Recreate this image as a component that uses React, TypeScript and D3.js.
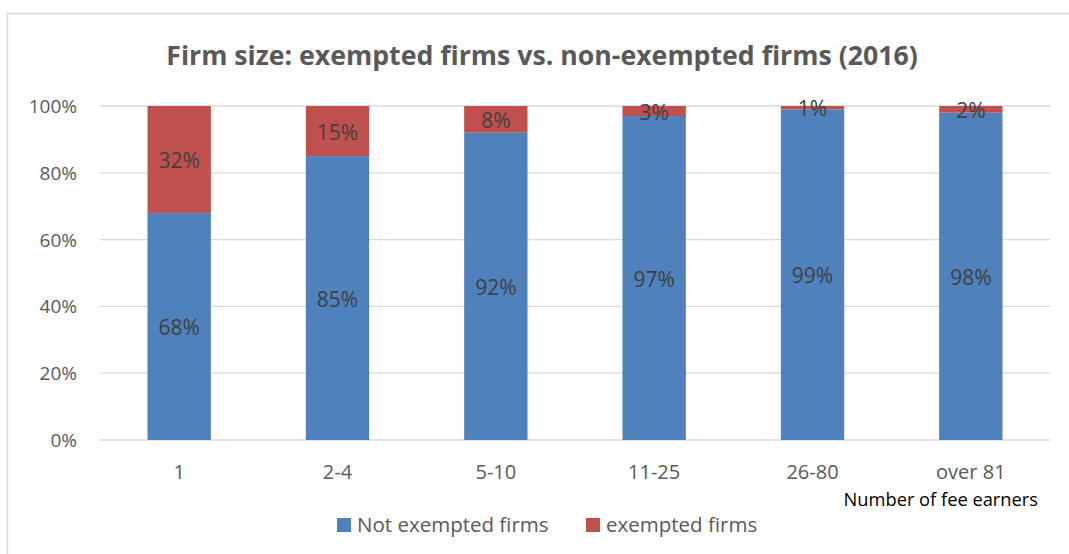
import React, { useEffect, useRef } from 'react';
import * as d3 from 'd3';

const categories = ['1', '2-4', '5-10', '11-25', '26-80', 'over 81'];
const notExempted = [68, 85, 92, 97, 99, 98];
const exempted = [32, 15, 8, 3, 1, 2];
const yTicks = [0, 20, 40, 60, 80, 100];
const seriesNames = ['Not exempted firms', 'exempted firms'];
const seriesColors = ['#4f81bd', '#c0504d'];

const FONT = '"Open Sans", Lato, sans-serif';

const App: React.FC = () => {
  const svgRef = useRef<SVGSVGElement>(null);

  useEffect(() => {
    if (!svgRef.current) return;
    const svg = d3.select(svgRef.current);
    svg.selectAll('*').remove();

    const width = 1069;
    const height = 554;
    const plot = { left: 100, right: 1050, top: 106, bottom: 440 };

    // chart frame (only top and left edges are visible)
    svg.append('rect')
      .attr('x', 7.5)
      .attr('y', 13.5)
      .attr('width', width + 20)
      .attr('height', height + 20)
      .attr('fill', '#fff')
      .attr('stroke', '#d9d9d9')
      .attr('stroke-width', 1.5);

    const x = d3.scaleBand<string>()
      .domain(categories)
      .range([plot.left, plot.right])
      .paddingInner(0.6)
      .paddingOuter(0.3);

    const y = d3.scaleLinear()
      .domain([0, 100])
      .range([plot.bottom, plot.top]);

    // grid lines
    svg.append('g')
      .selectAll('line')
      .data(yTicks)
      .enter()
      .append('line')
      .attr('x1', plot.left)
      .attr('x2', plot.right)
      .attr('y1', d => y(d))
      .attr('y2', d => y(d))
      .attr('stroke', '#d9d9d9')
      .attr('stroke-width', 1.3);

    // y tick labels
    svg.append('g')
      .selectAll('text')
      .data(yTicks)
      .enter()
      .append('text')
      .attr('x', 77)
      .attr('y', d => y(d) + 7)
      .attr('text-anchor', 'end')
      .attr('font-family', FONT)
      .attr('font-size', 19)
      .attr('fill', '#595959')
      .text(d => `${d}%`);

    // stacked bars
    const rows = categories.map((c, i) => ({ cat: c, a: notExempted[i], b: exempted[i] }));
    const stack = d3.stack<{ cat: string; a: number; b: number }>().keys(['a', 'b']);
    const layers = stack(rows);

    layers.forEach((layer, li) => {
      const g = svg.append('g');
      g.selectAll('rect')
        .data(layer)
        .enter()
        .append('rect')
        .attr('x', d => x(d.data.cat)!)
        .attr('width', x.bandwidth())
        .attr('y', d => y(d[1]))
        .attr('height', d => y(d[0]) - y(d[1]))
        .attr('fill', seriesColors[li]);

      g.selectAll('text')
        .data(layer)
        .enter()
        .append('text')
        .attr('x', d => x(d.data.cat)! + x.bandwidth() / 2)
        .attr('y', d => y((d[0] + d[1]) / 2) + 8.5)
        .attr('text-anchor', 'middle')
        .attr('font-family', FONT)
        .attr('font-size', 21)
        .attr('fill', '#404040')
        .text(d => `${d[1] - d[0]}%`);
    });

    // x labels
    svg.append('g')
      .selectAll('text')
      .data(categories)
      .enter()
      .append('text')
      .attr('x', d => x(d)! + x.bandwidth() / 2)
      .attr('y', 479)
      .attr('text-anchor', 'middle')
      .attr('font-family', FONT)
      .attr('font-size', 20)
      .attr('fill', '#595959')
      .text(d => d);

    // x axis title
    svg.append('text')
      .attr('x', 1038)
      .attr('y', 506)
      .attr('text-anchor', 'end')
      .attr('font-family', FONT)
      .attr('font-size', 18.3)
      .attr('fill', '#000')
      .text('Number of fee earners');

    // chart title
    svg.append('text')
      .attr('x', 542)
      .attr('y', 65)
      .attr('text-anchor', 'middle')
      .attr('font-family', FONT)
      .attr('font-weight', 'bold')
      .attr('font-size', 26.7)
      .attr('fill', '#595959')
      .text('Firm size: exempted firms vs. non-exempted firms (2016)');

    // legend
    const legendX = [337, 586];
    const legend = svg.append('g');
    seriesNames.forEach((name, i) => {
      legend.append('rect')
        .attr('x', legendX[i])
        .attr('y', 518)
        .attr('width', 14)
        .attr('height', 14)
        .attr('fill', seriesColors[i]);
      legend.append('text')
        .attr('x', legendX[i] + 20)
        .attr('y', 532)
        .attr('font-family', FONT)
        .attr('font-size', 20.5)
        .attr('fill', '#595959')
        .text(name);
    });
  }, []);

  return (
    <svg
      ref={svgRef}
      width={1069}
      height={554}
      style={{ position: 'absolute', left: 0, top: 0 }}
    />
  );
};

export default App;
